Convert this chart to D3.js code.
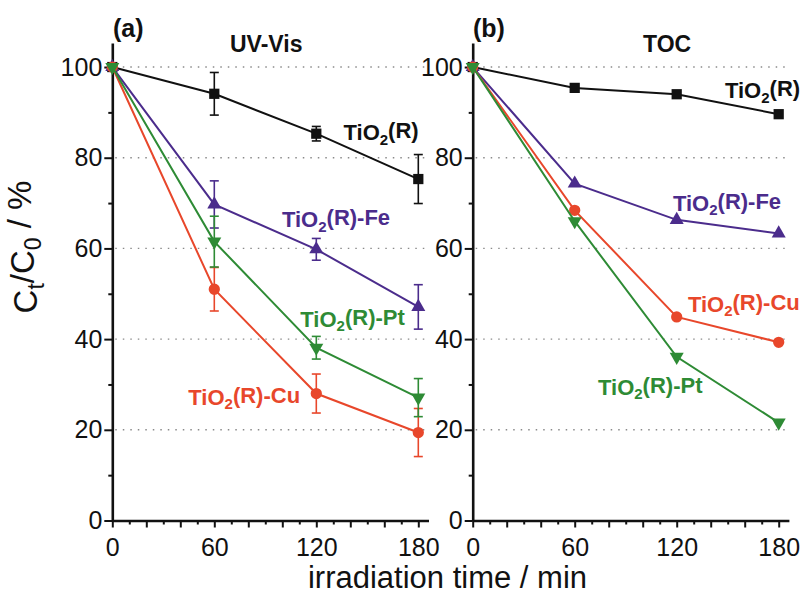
<!DOCTYPE html>
<html>
<head>
<meta charset="utf-8">
<script src="https://cdn.jsdelivr.net/npm/d3@7"></script>
<style>
  body { margin: 0; background: #fff; }
  text { font-family: "Liberation Sans", Arial, sans-serif; }
</style>
</head>
<body>
<div id="wrapper"></div>
<script>
// irradiation times (min)
const times = [0, 60, 120, 180]

// series names: "TiO" + subscript 2 + suffix
const suffixes = ["(R)", "(R)-Fe", "(R)-Cu", "(R)-Pt"]
const colors = ["#111111", "#4b2c8c", "#e8472b", "#2e8b35"]
const symbols = ["square", "triangleUp", "circle", "triangleDown"]

// (a) UV-Vis, Ct/C0 in %
const uvR = [100, 94.1, 85.3, 75.3]
const uvRErr = [0, 4.7, 1.6, 5.4]
const uvFe = [100, 69.7, 59.8, 47.1]
const uvFeErr = [0, 5.2, 2.4, 4.9]
const uvCu = [100, 51.0, 28.0, 19.4]
const uvCuErr = [0, 4.8, 4.3, 5.3]
const uvPt = [100, 61.5, 38.1, 27.1]
const uvPtErr = [0, 5.6, 2.5, 4.2]

// (b) TOC, Ct/C0 in %
const tocR = [100, 95.4, 94.0, 89.6]
const tocFe = [100, 74.3, 66.3, 63.3]
const tocCu = [100, 68.4, 44.9, 39.3]
const tocPt = [100, 66.0, 36.1, 21.6]

// ticks
const xMajor = [0, 20, 40, 60, 80, 100, 120, 140, 160, 180]
const xMinor = [10, 30, 50, 70, 90, 110, 130, 150, 170]
const yMajor = [0, 20, 40, 60, 80, 100]
const yMinor = [10, 30, 50, 70, 90]
const gridValues = [20, 40, 60, 80, 100]

function drawChart() {
  const width = 801
  const height = 594

  const svg = d3.select("#wrapper")
    .append("svg")
    .attr("width", width)
    .attr("height", height)

  const yScale = d3.scaleLinear()
    .domain([0, 105.3])
    .range([520.5, 43])

  const panels = [
    {
      tag: "(a)", title: "UV-Vis", tagX: 113, titleX: 230,
      left: 112.3,
      values: [uvR, uvFe, uvCu, uvPt],
      errors: [uvRErr, uvFeErr, uvCuErr, uvPtErr],
      // label anchors in data units [min, %]
      labels: [[136, 83.9], [99.8, 64.7], [44.7, 25.5], [110.6, 42.7]],
    },
    {
      tag: "(b)", title: "TOC", tagX: 473, titleX: 643,
      left: 472.7,
      values: [tocR, tocFe, tocCu, tocPt],
      errors: null,
      labels: [[148.4, 93.1], [117.8, 68.3], [126.6, 46.0], [73.7, 27.7]],
    },
  ]

  panels.forEach(p => {
    const xScale = d3.scaleLinear()
      .domain([0, 186])
      .range([p.left, p.left + 1.7 * 186])

    const g = svg.append("g")

    // dotted grid
    g.selectAll(".grid")
      .data(gridValues)
      .enter().append("line")
        .attr("x1", xScale(0) + 3)
        .attr("x2", xScale(186))
        .attr("y1", d => yScale(d))
        .attr("y2", d => yScale(d))
        .attr("stroke", "#8a8a8a")
        .attr("stroke-width", 1.4)
        .attr("stroke-dasharray", "1.5,6")

    // y axis
    g.append("g")
      .attr("transform", `translate(${xScale(0)},0)`)
      .call(d3.axisLeft(yScale).tickValues(yMajor).tickSize(8).tickPadding(2).tickSizeOuter(0))
    g.append("g")
      .attr("transform", `translate(${xScale(0)},0)`)
      .call(d3.axisLeft(yScale).tickValues(yMinor).tickSize(4).tickFormat("").tickSizeOuter(0))
      .call(a => a.select(".domain").remove())

    // x axis
    g.append("g")
      .attr("transform", `translate(0,${yScale(0)})`)
      .call(d3.axisBottom(xScale).tickValues(xMajor).tickSize(7).tickPadding(11).tickSizeOuter(0)
        .tickFormat(d => d % 60 === 0 ? d : ""))
    g.append("g")
      .attr("transform", `translate(0,${yScale(0)})`)
      .call(d3.axisBottom(xScale).tickValues(xMinor).tickSize(4).tickFormat("").tickSizeOuter(0))
      .call(a => a.select(".domain").remove())

    g.selectAll(".tick line").attr("stroke", "#111").attr("stroke-width", 2)
    g.selectAll(".domain").attr("stroke", "#111").attr("stroke-width", 2.6)
    g.selectAll(".tick text")
      .attr("fill", "#111")
      .style("font-size", "25px")

    // series
    p.values.forEach((vals, i) => {
      const pts = times.map((t, j) => ({ t, v: vals[j], e: p.errors ? p.errors[i][j] : 0 }))
      const color = colors[i]

      const line = d3.line()
        .x(d => xScale(d.t))
        .y(d => yScale(d.v))

      g.append("path")
        .datum(pts)
        .attr("d", line)
        .attr("fill", "none")
        .attr("stroke", color)
        .attr("stroke-width", 2)

      if (p.errors) {
        const eb = g.selectAll(null)
          .data(pts.filter(d => d.e > 0))
          .enter().append("g")
            .attr("stroke", color)
            .attr("stroke-width", 1.6)
        eb.append("line")
          .attr("x1", d => xScale(d.t)).attr("x2", d => xScale(d.t))
          .attr("y1", d => yScale(d.v + d.e)).attr("y2", d => yScale(d.v - d.e))
        eb.append("line")
          .attr("x1", d => xScale(d.t) - 4.5).attr("x2", d => xScale(d.t) + 4.5)
          .attr("y1", d => yScale(d.v + d.e)).attr("y2", d => yScale(d.v + d.e))
        eb.append("line")
          .attr("x1", d => xScale(d.t) - 4.5).attr("x2", d => xScale(d.t) + 4.5)
          .attr("y1", d => yScale(d.v - d.e)).attr("y2", d => yScale(d.v - d.e))
      }

      const sym = symbols[i]
      let gen, rot = 0
      if (sym === "square") gen = d3.symbol(d3.symbolSquare, 105)
      else if (sym === "circle") gen = d3.symbol(d3.symbolCircle, 100)
      else {
        gen = d3.symbol(d3.symbolTriangle, 85)
        if (sym === "triangleDown") rot = 180
      }

      g.selectAll(null)
        .data(pts)
        .enter().append("path")
          .attr("d", gen)
          .attr("transform", d => `translate(${xScale(d.t)},${yScale(d.v)}) rotate(${rot})`)
          .attr("fill", color)
    })

    // series labels
    p.labels.forEach((pos, i) => {
      const label = g.append("text")
        .attr("x", xScale(pos[0]))
        .attr("y", yScale(pos[1]))
        .attr("fill", colors[i])
        .style("font-size", "22px")
        .style("font-weight", "bold")
      label.append("tspan").text("TiO")
      label.append("tspan").text("2").attr("dy", "0.3em").style("font-size", "15px")
      label.append("tspan").text(suffixes[i]).attr("dy", "-0.3em").style("font-size", "22px")
    })

    // panel tag and title
    g.append("text")
      .attr("x", p.tagX)
      .attr("y", 37)
      .style("font-size", "25px")
      .style("font-weight", "bold")
      .attr("fill", "#111")
      .text(p.tag)

    g.append("text")
      .attr("x", p.titleX)
      .attr("y", 52)
      .style("font-size", "23px")
      .style("font-weight", "bold")
      .attr("fill", "#111")
      .text(p.title)
  })

  // axis titles
  svg.append("text")
    .attr("x", 447.5)
    .attr("y", 588)
    .attr("text-anchor", "middle")
    .style("font-size", "31px")
    .attr("fill", "#111")
    .text("irradiation time / min")

  const yLabel = svg.append("text")
    .attr("transform", "translate(37,247) rotate(-90)")
    .attr("text-anchor", "middle")
    .style("font-size", "33px")
    .attr("fill", "#111")
  yLabel.append("tspan").text("C")
  yLabel.append("tspan").text("t").attr("dy", "0.3em").style("font-size", "23px")
  yLabel.append("tspan").text("/C").attr("dy", "-0.3em").style("font-size", "33px")
  yLabel.append("tspan").text("0").attr("dy", "0.3em").style("font-size", "23px")
  yLabel.append("tspan").text(" / %").attr("dy", "-0.3em").style("font-size", "33px")
}

drawChart()
</script>
</body>
</html>
